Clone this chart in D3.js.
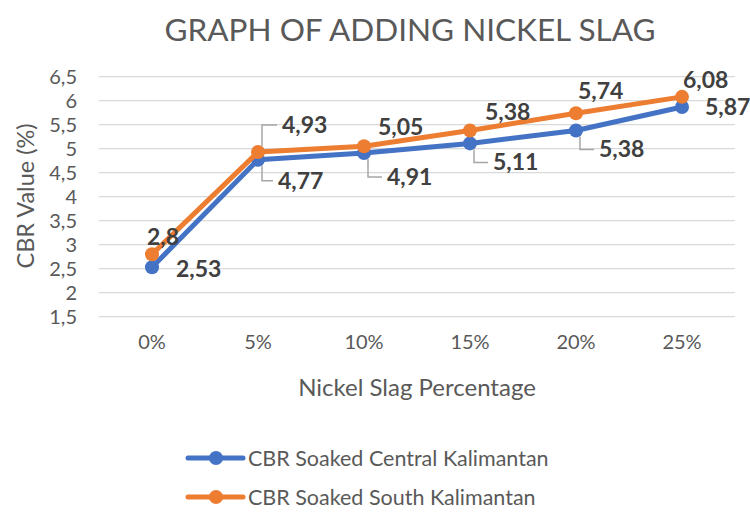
<!DOCTYPE html>
<html>
<head>
<meta charset="utf-8">
<script src="https://cdn.jsdelivr.net/npm/d3@7"></script>
<style>
  body { margin: 0; background: #fff; }
  svg { font-family: Lato, "Open Sans", sans-serif; }
</style>
</head>
<body>
<svg width="750" height="514"></svg>
<script>
// Data
let categories = ["0%", "5%", "10%", "15%", "20%", "25%"];
let centralValues = [2.53, 4.77, 4.91, 5.11, 5.38, 5.87];
let southValues = [2.8, 4.93, 5.05, 5.38, 5.74, 6.08];
let yTicks = [1.5, 2, 2.5, 3, 3.5, 4, 4.5, 5, 5.5, 6, 6.5];
let seriesNames = ["CBR Soaked Central Kalimantan", "CBR Soaked South Kalimantan"];

// label placement relative to each point (dx, dy of baseline, leader line?)
let centralLabelPos = [[24, 10, false], [20, 29, true], [23, 32, true], [23, 27, true], [23, 27, true], [23, 8, false]];
let southLabelPos = [[-5, -9, false], [24, -19, true], [14, -11, false], [15, -10, false], [2, -14, false], [1, -9, false]];

let svg = d3.select("svg");
let colors = ["#4472C4", "#ED7D31"];
let fmt = d => String(d).replace(".", ",");

let x = d3.scaleBand().domain(categories).range([99, 735]);
let y = d3.scaleLinear().domain([1.5, 6.5]).range([316.7, 76.7]);

// Title
svg.append("text")
  .attr("x", 410).attr("y", 41)
  .attr("text-anchor", "middle")
  .attr("font-size", 31.5)
  .attr("fill", "#595959")
  .text("GRAPH OF ADDING NICKEL SLAG");

// Gridlines
svg.append("g")
  .selectAll("line")
  .data(yTicks)
  .enter().append("line")
  .attr("x1", 99).attr("x2", 735)
  .attr("y1", d => y(d)).attr("y2", d => y(d))
  .attr("stroke", "#d9d9d9").attr("stroke-width", 1.3);

// Y axis
let yAxis = svg.append("g")
  .attr("transform", "translate(99,0)")
  .call(d3.axisLeft(y).tickValues(yTicks).tickSize(0).tickPadding(22).tickFormat(fmt));
yAxis.select(".domain").remove();
yAxis.selectAll("text").attr("font-size", 20).attr("fill", "#595959").attr("font-family", "Lato, sans-serif");

// X axis
let xAxis = svg.append("g")
  .attr("transform", "translate(0,316.7)")
  .call(d3.axisBottom(x).tickSize(0).tickPadding(18));
xAxis.select(".domain").remove();
xAxis.selectAll("text").attr("font-size", 20).attr("fill", "#595959").attr("font-family", "Lato, sans-serif");

// Axis titles
svg.append("text")
  .attr("transform", "translate(34,196) rotate(-90)")
  .attr("text-anchor", "middle")
  .attr("font-size", 23.5)
  .attr("fill", "#595959")
  .text("CBR Value (%)");

svg.append("text")
  .attr("x", 417).attr("y", 396)
  .attr("text-anchor", "middle")
  .attr("font-size", 24)
  .attr("fill", "#595959")
  .text("Nickel Slag Percentage");

let cx = d => x(d) + x.bandwidth() / 2;
let line = d3.line().x(d => cx(d.cat)).y(d => y(d.v));

let series = [centralValues, southValues].map((vals, i) =>
  vals.map((v, j) => ({ cat: categories[j], v: v, pos: (i === 0 ? centralLabelPos : southLabelPos)[j] })));

series.forEach((pts, i) => {
  svg.append("path")
    .datum(pts)
    .attr("d", line)
    .attr("fill", "none")
    .attr("stroke", colors[i])
    .attr("stroke-width", 5)
    .attr("stroke-linejoin", "round");

  svg.append("g")
    .selectAll("circle")
    .data(pts)
    .enter().append("circle")
    .attr("cx", d => cx(d.cat))
    .attr("cy", d => y(d.v))
    .attr("r", 7)
    .attr("fill", colors[i]);
});

// Labels and leader lines
series.forEach((pts, i) => {
  pts.forEach(d => {
    let px = cx(d.cat), py = y(d.v);
    let lx = px + d.pos[0], ly = py + d.pos[1];
    if (d.pos[2]) {
      let midY = ly - 8;
      let dir = midY > py ? 1 : -1;
      svg.append("polyline")
        .attr("points", [[px + 4, py + dir * 6], [px + 4, midY], [lx - 5, midY]].map(p => p.join(",")).join(" "))
        .attr("fill", "none")
        .attr("stroke", "#a6a6a6")
        .attr("stroke-width", 1.5);
    }
    svg.append("text")
      .attr("x", lx).attr("y", ly)
      .attr("font-size", 23)
      .attr("font-weight", "bold")
      .attr("fill", "#404040")
      .text(fmt(d.v));
  });
});

// Legend
let legend = svg.append("g")
  .selectAll("g")
  .data(seriesNames)
  .enter().append("g")
  .attr("transform", (d, i) => "translate(188," + (458 + i * 39) + ")");

legend.append("line")
  .attr("x1", 0).attr("x2", 55)
  .attr("stroke", (d, i) => colors[i])
  .attr("stroke-width", 5)
  .attr("stroke-linecap", "round");
legend.append("circle")
  .attr("cx", 28).attr("r", 7)
  .attr("fill", (d, i) => colors[i]);
legend.append("text")
  .attr("x", 60).attr("y", 8)
  .attr("font-size", 21.5)
  .attr("fill", "#595959")
  .text(d => d);
</script>
</body>
</html>
